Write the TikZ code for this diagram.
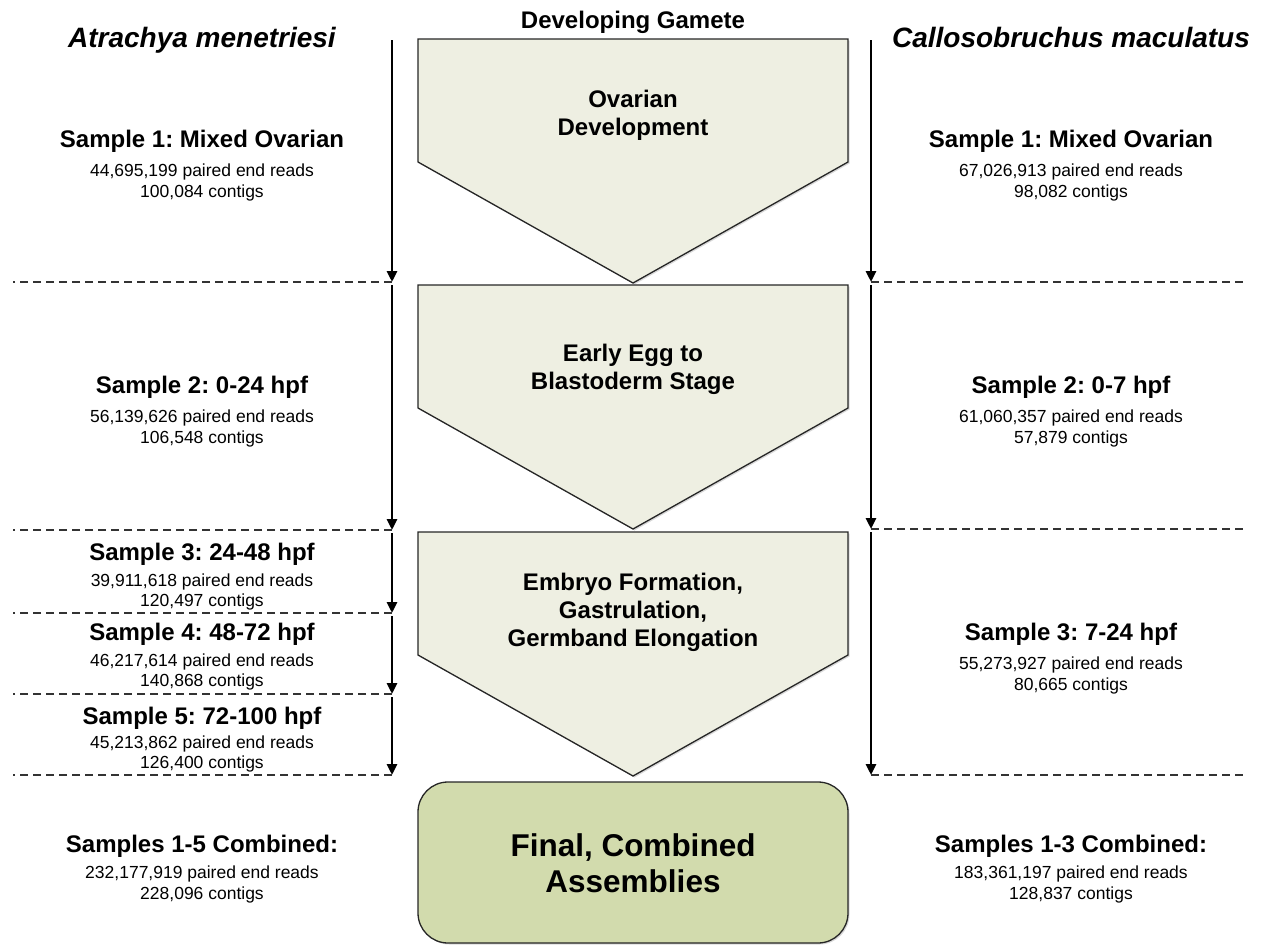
\documentclass[tikz,border=0pt]{standalone}
\usepackage{fontspec}
\setmainfont{Liberation Sans}
\usetikzlibrary{arrows.meta, shadows}

\definecolor{stagefill}{RGB}{238,239,226}
\definecolor{finalfill}{RGB}{210,219,173}

\begin{document}
\frenchspacing
\begin{tikzpicture}[x=1pt, y=-1pt,
		stage/.style={draw=black!85, line width=1.3pt, fill=stagefill, drop shadow={shadow xshift=1.5pt, shadow yshift=-1.5pt, opacity=0.3}},
		final/.style={draw=black!85, line width=1.3pt, fill=finalfill, rounded corners=30pt, drop shadow={shadow xshift=1.5pt, shadow yshift=-1.5pt, opacity=0.3}},
		flow/.style={line width=2.8pt, -{Triangle[width=10pt, length=11pt]}},
		sep/.style={line width=1.3pt, black!80, dash pattern=on 8pt off 5pt},
		species/.style={anchor=base, font=\fontsize{28}{32}\selectfont\bfseries\itshape},
		stagetext/.style={anchor=north, align=center, inner sep=0pt, font=\fontsize{24}{28}\selectfont\bfseries},
		sample/.style={anchor=north, align=center, inner sep=0pt, font=\fontsize{17.5}{21}\selectfont}]
		\useasboundingbox (0,0) rectangle (1269,945);

		% column titles
		\node[species] (ta) at (202,47) {Atrachya menetriesi};
		\node[species] (tc) at (1071,47) {Callosobruchus maculatus};
		\node[species, font=\fontsize{24}{28}\selectfont\bfseries] (tg) at (633,28) {Developing Gamete};

		% developmental stages
		\foreach \t in {39, 285, 532} {
			\draw[stage] (418,\t) -- (848,\t) -- (848,\t+123) -- (633,\t+244) -- (418,\t+123) -- cycle;
		}
		\draw[final] (418,782) rectangle (848,943);
		\node[stagetext] (s1) at (633,90) {Ovarian\\Development};
		\node[stagetext] (s2) at (633,344) {Early Egg to\\Blastoderm Stage};
		\node[stagetext] (s3) at (633,573) {Embryo Formation,\\Gastrulation,\\Germband Elongation};
		\node[stagetext, font=\fontsize{31.5}{36}\selectfont\bfseries] (sf) at (633,833) {Final, Combined\\Assemblies};

		% time axes
		\coordinate (l0) at (392,37);
		\coordinate (l1) at (392,282);
		\coordinate (l2) at (392,530);
		\coordinate (l3) at (392,613);
		\coordinate (l4) at (392,694);
		\coordinate (l5) at (392,775);
		\coordinate (r0) at (871,37);
		\coordinate (r1) at (871,282);
		\coordinate (r2) at (871,529);
		\coordinate (r3) at (871,775);
		\foreach \a/\b in {l0/l1, l1/l2, l2/l3, l3/l4, l4/l5, r0/r1, r1/r2, r2/r3} {
			\draw[flow, shorten <=3pt] (\a) -- (\b);
		}
		\foreach \c in {l1, l2, l3, l4, l5} {
			\draw[sep] (\c) -- ++(-379,0);
		}
		\foreach \c in {r1, r2, r3} {
			\draw[sep] (\c) -- ++(376,0);
		}

		% Atrachya samples
		\node[sample] (a1) at (202,130) {{\fontsize{24}{28}\selectfont\bfseries Sample 1: Mixed Ovarian}\\[8pt]44,695,199 paired end reads\\100,084 contigs};
		\node[sample] (a2) at (202,376) {{\fontsize{24}{28}\selectfont\bfseries Sample 2: 0-24 hpf}\\[8pt]56,139,626 paired end reads\\106,548 contigs};
		\node[sample] (a3) at (202,543) {{\fontsize{24}{28}\selectfont\bfseries Sample 3: 24-48 hpf}\\[5pt]39,911,618 paired end reads\\[-1pt]120,497 contigs};
		\node[sample] (a4) at (202,623) {{\fontsize{24}{28}\selectfont\bfseries Sample 4: 48-72 hpf}\\[5pt]46,217,614 paired end reads\\[-1pt]140,868 contigs};
		\node[sample] (a5) at (202,707) {{\fontsize{24}{28}\selectfont\bfseries Sample 5: 72-100 hpf}\\[3pt]45,213,862 paired end reads\\[-1pt]126,400 contigs};
		\node[sample] (aall) at (202,835) {{\fontsize{24}{28}\selectfont\bfseries Samples 1-5 Combined:}\\[5pt]232,177,919 paired end reads\\228,096 contigs};

		% Callosobruchus samples
		\node[sample] (c1) at (1071,130) {{\fontsize{24}{28}\selectfont\bfseries Sample 1: Mixed Ovarian}\\[8pt]67,026,913 paired end reads\\98,082 contigs};
		\node[sample] (c2) at (1071,376) {{\fontsize{24}{28}\selectfont\bfseries Sample 2: 0-7 hpf}\\[8pt]61,060,357 paired end reads\\57,879 contigs};
		\node[sample] (c3) at (1071,623) {{\fontsize{24}{28}\selectfont\bfseries Sample 3: 7-24 hpf}\\[8pt]55,273,927 paired end reads\\80,665 contigs};
		\node[sample] (call) at (1071,835) {{\fontsize{24}{28}\selectfont\bfseries Samples 1-3 Combined:}\\[5pt]183,361,197 paired end reads\\128,837 contigs};
	\end{tikzpicture}
\end{document}
